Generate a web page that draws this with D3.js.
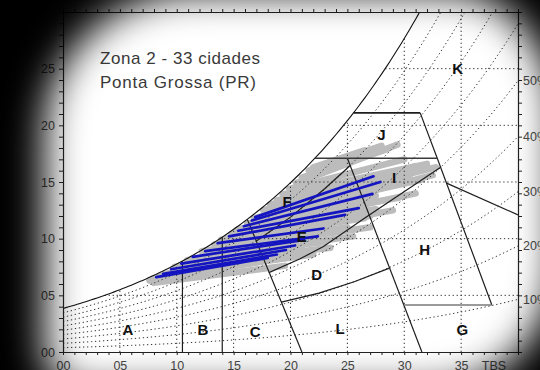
<!DOCTYPE html>
<html>
<head>
<meta charset="utf-8">
<script src="https://cdn.jsdelivr.net/npm/d3@7"></script>
<style>
  html, body { margin: 0; padding: 0; background: #fff; overflow: hidden; }
  svg { display: block; font-family: "Liberation Sans", Arial, sans-serif; }
</style>
</head>
<body>
<svg id="chart" width="540" height="370"></svg>
<script>
// ---- Ponta Grossa (PR): one line per month, from (Tmin, W) to (Tmax, W) ----
const pgMonths = ["Jan", "Fev", "Mar", "Abr", "Mai", "Jun", "Jul", "Ago", "Set", "Out", "Nov", "Dez"];
const pgTmin = [16.9, 16.6, 15.9, 13.6, 10.4, 8.8, 8.2, 9.5, 11.4, 12.5, 14.6, 15.4];
const pgWmin = [11.9, 11.6, 11.1, 9.6, 7.8, 6.9, 6.6, 7.3, 8.4, 8.9, 10.2, 10.7];
const pgTmax = [27.3, 27.9, 27.2, 22.9, 20.4, 18.8, 18.0, 19.6, 21.2, 22.4, 24.8, 26.0];
const pgWmax = [15.5, 15.0, 13.95, 10.9, 9.4, 8.6, 8.3, 9.0, 9.9, 10.2, 12.1, 12.7];

// ---- other cities of Zona 2: [Tmin, W, Tmax, W] ----
const zoneCityLines = [
  [7.6, 6.3, 17.0, 7.9], [7.9, 6.5, 18.5, 8.4], [8.5, 6.7, 19.0, 8.9], [9.0, 6.9, 17.5, 8.0],
  [9.8, 7.5, 20.5, 9.6], [10.2, 7.6, 21.0, 9.3], [10.9, 8.1, 21.8, 10.2], [11.5, 8.2, 22.5, 9.8],
  [12.2, 8.9, 23.4, 10.9], [12.8, 8.6, 23.0, 9.7], [13.3, 9.5, 24.8, 11.8], [13.9, 9.9, 25.5, 12.3],
  [14.3, 9.4, 25.0, 11.0], [14.8, 10.4, 26.5, 13.0], [15.3, 10.8, 27.5, 13.8], [15.6, 10.2, 26.5, 11.8],
  [16.2, 11.3, 28.5, 14.6], [16.8, 11.8, 29.5, 15.4], [17.2, 11.0, 27.5, 12.6], [17.6, 12.5, 30.0, 16.0],
  [18.2, 13.0, 31.0, 16.4], [18.8, 13.4, 30.5, 15.3], [19.3, 13.9, 32.0, 16.6], [19.9, 14.4, 30.0, 17.0],
  [20.5, 14.9, 29.4, 18.3], [21.0, 15.4, 28.5, 17.9], [21.6, 16.0, 28.0, 18.2], [18.0, 12.2, 31.5, 15.2],
  [17.8, 11.6, 29.5, 13.6], [16.5, 10.6, 27.0, 12.0], [15.0, 9.8, 24.0, 10.6], [20.0, 13.2, 32.8, 16.3],
  [22.0, 16.3, 26.5, 17.8], [8.0, 6.1, 19.5, 7.6], [10.5, 7.0, 22.0, 8.6], [12.0, 7.8, 23.5, 9.2],
  [14.0, 8.6, 25.5, 10.2], [16.0, 9.4, 27.0, 11.0], [18.5, 10.6, 29.0, 12.5], [20.0, 11.6, 31.0, 14.0],
  [22.5, 13.0, 32.5, 15.6]
];

// ---- axes ----
const xTickLabels = ["00", "05", "10", "15", "20", "25", "30", "35"];
const xTickValues = [0, 5, 10, 15, 20, 25, 30, 35];
const yTickLabels = ["00", "05", "10", "15", "20", "25"];
const yTickValues = [0, 5, 10, 15, 20, 25];
const rhLevels = [0.1, 0.2, 0.3, 0.4, 0.5, 0.6, 0.7, 0.8, 0.9];
const rhLabels = ["10%", "20%", "30%", "40%", "50%"];
const gridW = [5, 10, 15, 20, 25];
const gridT = [5, 10, 15, 20, 25, 30, 35];

// ---- zone boundaries, [T, W] vertices ----
const lineCD = [[16.2, 11.72], [21.0, 0]];
const lineDE = [[18.1, 7.0], [20.8, 8.2], [22.9, 9.3], [26.5, 11.8], [33.2, 16.3]];
const lineEF = [[17.0, 9.8], [20.0, 11.9], [23.0, 14.4], [25.25, 16.45]];
const lineDL = [[19.2, 4.4], [22.5, 5.2], [25.6, 6.2], [28.7, 7.4]];
const lineHI = [[25.0, 17.1], [31.55, 0]];
const lineRight = [[31.4, 21.1], [32.9, 17.1], [37.7, 4.15]];
const lineKH = [[33.72, 14.9], [40, 12.1]];
const lineGH = [[29.96, 4.15], [37.7, 4.15]];
const wIJ = 17.1, tIJend = 32.9;
const wJK = 21.1, tJKend = 31.4;
const tAB = 10.5, tBC = 14.0;

const zoneNames = ["A", "B", "C", "D", "E", "F", "G", "H", "I", "J", "K", "L"];
const zoneLabelT = [5.7, 12.3, 16.9, 22.3, 21.0, 19.7, 35.1, 31.8, 29.1, 28.0, 34.7, 24.35];
const zoneLabelW = [2.0, 2.0, 1.8, 6.8, 10.15, 13.3, 2.0, 9.0, 15.4, 19.15, 25.0, 2.1];

// ---- psychrometrics ----
const P = 99.5; // kPa
const ps = T => 0.61094 * Math.exp(17.625 * T / (T + 243.04));
const wOf = (T, rh) => { const pv = rh * ps(T); return 622 * pv / (P - pv); };
function tSat(W) {
  let lo = -20, hi = 60;
  for (let i = 0; i < 60; i++) { const m = (lo + hi) / 2; if (wOf(m, 1) < W) lo = m; else hi = m; }
  return (lo + hi) / 2;
}

// ---- layout ----
const svg = d3.select("#chart");
const x = d3.scaleLinear().domain([0, 40]).range([63, 518]);
const y = d3.scaleLinear().domain([0, 30]).range([352, 12]);
const line = d3.line().x(d => x(d[0])).y(d => y(d[1]));

svg.append("rect").attr("width", 540).attr("height", 370).attr("fill", "#fff");

const defs = svg.append("defs");
defs.append("clipPath").attr("id", "plotClip")
  .append("rect").attr("x", 63).attr("y", 12).attr("width", 455).attr("height", 340);

const plot = svg.append("g").attr("clip-path", "url(#plotClip)");

// city data (gray)
plot.append("g").selectAll("line").data(zoneCityLines).join("line")
  .attr("x1", d => x(d[0])).attr("y1", d => y(d[1]))
  .attr("x2", d => x(d[2])).attr("y2", d => y(d[3]))
  .attr("stroke", "#bcbcbc").attr("stroke-width", 6.5).attr("stroke-linecap", "round");

// dotted grid: relative humidity curves
const dotted = plot.append("g").attr("fill", "none").attr("stroke", "#333")
  .attr("stroke-width", 1).attr("stroke-dasharray", "1.3,2.7");
rhLevels.forEach(rh => {
  const pts = d3.range(0, 40.01, 0.5).map(T => [T, wOf(T, rh)]);
  dotted.append("path").attr("d", line(pts));
});
gridT.forEach(T => {
  dotted.append("path").attr("d", line([[T, 0], [T, Math.min(wOf(T, 1), 30)]]));
});
gridW.forEach(W => {
  dotted.append("path").attr("d", line([[tSat(W), W], [40, W]]));
});

// saturation curve
const tTop = tSat(30);
const satPts = d3.range(0, tTop, 0.25).map(T => [T, wOf(T, 1)]).concat([[tTop, 30]]);
plot.append("path").attr("d", line(satPts)).attr("fill", "none")
  .attr("stroke", "#111").attr("stroke-width", 1.1);

// zone boundaries
const zones = plot.append("g").attr("fill", "none").attr("stroke", "#1e1e1e").attr("stroke-width", 1.2);
[
  [[tAB, 0], [tAB, wOf(tAB, 1)]],
  [[tBC, 0], [tBC, wOf(tBC, 1)]],
  lineCD, lineDE, lineEF, lineDL, lineHI, lineRight, lineKH
].forEach(p => zones.append("path").attr("d", line(p)));
zones.append("path").attr("d", line([[tSat(wIJ), wIJ], [tIJend, wIJ]])).attr("stroke", "#3a3a3a").attr("stroke-width", 1.5);
zones.append("path").attr("d", line([[tSat(wJK), wJK], [tJKend, wJK]])).attr("stroke-width", 1.6);
zones.append("path").attr("d", line(lineGH)).attr("stroke", "#7a7a7a").attr("stroke-width", 1.4);

// Ponta Grossa (blue)
plot.append("g").selectAll("line").data(pgMonths).join("line")
  .attr("x1", (d, i) => x(pgTmin[i])).attr("y1", (d, i) => y(pgWmin[i]))
  .attr("x2", (d, i) => x(pgTmax[i])).attr("y2", (d, i) => y(pgWmax[i]))
  .attr("stroke", "#1414c0").attr("stroke-width", 2.7).attr("stroke-linecap", "round");

// zone letters
svg.append("g").selectAll("text").data(zoneNames).join("text")
  .attr("x", (d, i) => x(zoneLabelT[i])).attr("y", (d, i) => y(zoneLabelW[i]))
  .attr("dy", "0.36em").attr("text-anchor", "middle")
  .attr("font-size", 15).attr("font-weight", "bold").attr("fill", "#111")
  .text(d => d);

// axes
const tickStyle = g => {
  g.select(".domain").attr("stroke", "#222").attr("stroke-width", 1.2);
  g.selectAll(".tick line").attr("stroke", "#222");
  g.selectAll(".tick text").attr("fill", "#4a4a4a").attr("font-size", 12.5)
    .attr("font-family", "Liberation Sans, Arial, sans-serif");
};
const xLab = d => { const k = xTickValues.indexOf(d); return k >= 0 ? xTickLabels[k] : ""; };
const yLab = d => { const k = yTickValues.indexOf(d); return k >= 0 ? yTickLabels[k] : ""; };

svg.append("g").attr("transform", "translate(0,352)")
  .call(d3.axisBottom(x).tickValues(d3.range(0, 41)).tickSize(3).tickSizeOuter(0).tickPadding(6).tickFormat(xLab))
  .call(tickStyle);
svg.append("g").attr("transform", "translate(0,12)")
  .call(d3.axisTop(x).tickValues(d3.range(0, 41)).tickSize(3).tickSizeOuter(0).tickFormat(""))
  .call(tickStyle);
svg.append("g").attr("transform", "translate(63,0)")
  .call(d3.axisLeft(y).tickValues(d3.range(0, 31)).tickSize(4).tickSizeOuter(0).tickPadding(4).tickFormat(yLab))
  .call(tickStyle);
svg.append("g").attr("transform", "translate(518,0)")
  .call(d3.axisRight(y).tickValues(d3.range(0, 31)).tickSize(4).tickSizeOuter(0).tickFormat(""))
  .call(tickStyle);

svg.append("text").attr("x", 494).attr("y", 369.5).attr("text-anchor", "middle")
  .attr("font-size", 12.5).attr("fill", "#4a4a4a").text("TBS");

// relative humidity labels at the right edge
svg.append("g").selectAll("text").data(rhLabels).join("text")
  .attr("x", 523).attr("y", (d, i) => y(wOf(40, rhLevels[i])))
  .attr("dy", "0.36em").attr("font-size", 12.5).attr("fill", "#4a4a4a")
  .text(d => d);

// title
const title = svg.append("g").attr("fill", "#3a3a3a").attr("font-size", 17);
title.append("text").attr("x", 100).attr("y", 64)
  .attr("textLength", 160).attr("lengthAdjust", "spacing").text("Zona 2 - 33 cidades");
title.append("text").attr("x", 100).attr("y", 88)
  .attr("textLength", 156).attr("lengthAdjust", "spacing").text("Ponta Grossa (PR)");

// dark vignette: black layer masked by a soft-edged window
const blur = defs.append("filter").attr("id", "soft")
  .attr("filterUnits", "userSpaceOnUse")
  .attr("x", -200).attr("y", -200).attr("width", 940).attr("height", 770);
blur.append("feGaussianBlur").attr("stdDeviation", 19);
const mask = defs.append("mask").attr("id", "vigMask")
  .attr("maskUnits", "userSpaceOnUse")
  .attr("x", 0).attr("y", 0).attr("width", 540).attr("height", 370);
mask.append("rect").attr("x", -100).attr("y", -100).attr("width", 740).attr("height", 570).attr("fill", "#fff");
mask.append("path").attr("fill", "#000").attr("filter", "url(#soft)")
  .attr("d", "M195,-8 L450,-8 A105 128 0 0 1 555,120 L555,260 A125 130 0 0 1 430,390 " +
             "L85,390 A40 40 0 0 1 45,350 L45,135 A150 143 0 0 1 195,-8 Z");
svg.append("rect").attr("width", 540).attr("height", 370).attr("fill", "#000")
  .attr("mask", "url(#vigMask)");
</script>
</body>
</html>
